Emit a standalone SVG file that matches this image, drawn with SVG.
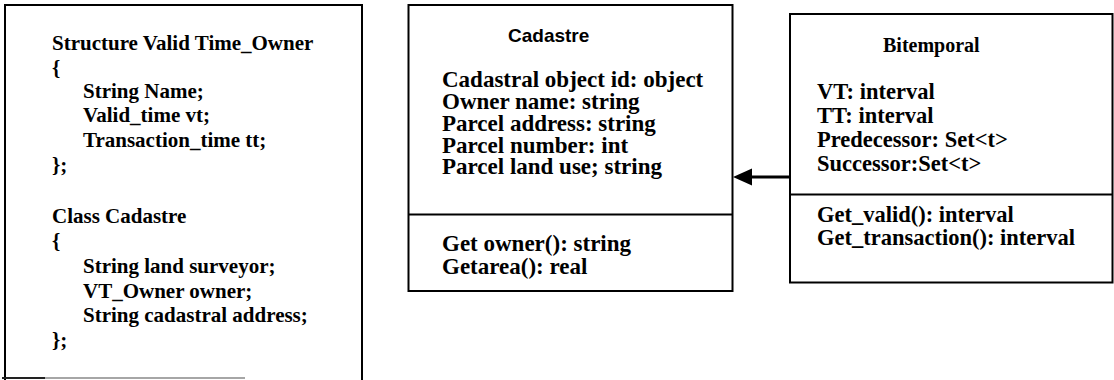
<svg xmlns="http://www.w3.org/2000/svg" width="1114" height="380" viewBox="0 0 1114 380">
  <style>
    .frame { fill: none; stroke: #000; stroke-width: 2; }
    .rule { stroke: #000; stroke-width: 2; }
    .code { font-family: "Liberation Serif", "Times New Roman", serif; font-weight: bold; font-size: 21px; fill: #000; }
    .attr { font-family: "Liberation Serif", "Times New Roman", serif; font-weight: bold; font-size: 23px; fill: #000; }
    .attr-b { font-family: "Liberation Serif", "Times New Roman", serif; font-weight: bold; font-size: 22.5px; fill: #000; }
    .title-sans { font-family: "Liberation Sans", Arial, sans-serif; font-weight: bold; font-size: 19px; fill: #000; }
    .title-serif { font-family: "Liberation Serif", "Times New Roman", serif; font-weight: bold; font-size: 20px; fill: #000; }
  </style>

  <!-- Code listing: structure and class declarations -->
  <g id="code-listing">
    <path class="frame" d="M5,380 V5 H362 V380"/>
    <line x1="2" y1="378" x2="45" y2="378" stroke="#222" stroke-width="2"/>
    <line x1="45" y1="378" x2="245" y2="378" stroke="#888" stroke-width="1.5"/>
    <text class="code" x="52" y="50">Structure Valid Time_Owner</text>
    <text class="code" x="52" y="75">{</text>
    <text class="code" x="83" y="98">String Name;</text>
    <text class="code" x="83" y="122">Valid_time vt;</text>
    <text class="code" x="83" y="147">Transaction_time tt;</text>
    <text class="code" x="52" y="172">};</text>
    <text class="code" x="52" y="223">Class Cadastre</text>
    <text class="code" x="52" y="248">{</text>
    <text class="code" x="83" y="273">String land surveyor;</text>
    <text class="code" x="83" y="298">VT_Owner owner;</text>
    <text class="code" x="83" y="322">String cadastral address;</text>
    <text class="code" x="52" y="347">};</text>
  </g>

  <!-- Cadastre class -->
  <g id="cadastre">
    <rect class="frame" x="408.5" y="5" width="324" height="286"/>
    <line class="rule" x1="408.5" y1="214.5" x2="732.5" y2="214.5"/>
    <text class="title-sans" x="508" y="42">Cadastre</text>
    <text class="attr" x="442" y="87">Cadastral object id: object</text>
    <text class="attr" x="442" y="109">Owner name: string</text>
    <text class="attr" x="442" y="131">Parcel address: string</text>
    <text class="attr" x="442" y="153">Parcel number: int</text>
    <text class="attr" x="442" y="174">Parcel land use; string</text>
    <text class="attr" x="442" y="251">Get owner(): string</text>
    <text class="attr" x="442" y="274">Getarea(): real</text>
  </g>

  <!-- Bitemporal class -->
  <g id="bitemporal">
    <rect class="frame" x="790" y="14" width="322.5" height="268.5"/>
    <line class="rule" x1="790" y1="194.5" x2="1112.5" y2="194.5"/>
    <text class="title-serif" x="883" y="52">Bitemporal</text>
    <text class="attr-b" x="817" y="99">VT: interval</text>
    <text class="attr-b" x="817" y="123">TT: interval</text>
    <text class="attr-b" x="817" y="147">Predecessor: Set&lt;t&gt;</text>
    <text class="attr-b" x="817" y="171">Successor:Set&lt;t&gt;</text>
    <text class="attr-b" x="817" y="222">Get_valid(): interval</text>
    <text class="attr-b" x="817" y="245">Get_transaction(): interval</text>
  </g>

  <!-- Connectors: Bitemporal to Cadastre -->
  <g id="connectors">
    <line x1="790" y1="177" x2="751" y2="177" stroke="#000" stroke-width="3"/>
    <polygon points="733,177 752,168.5 752,185.5" fill="#000"/>
  </g>
</svg>
